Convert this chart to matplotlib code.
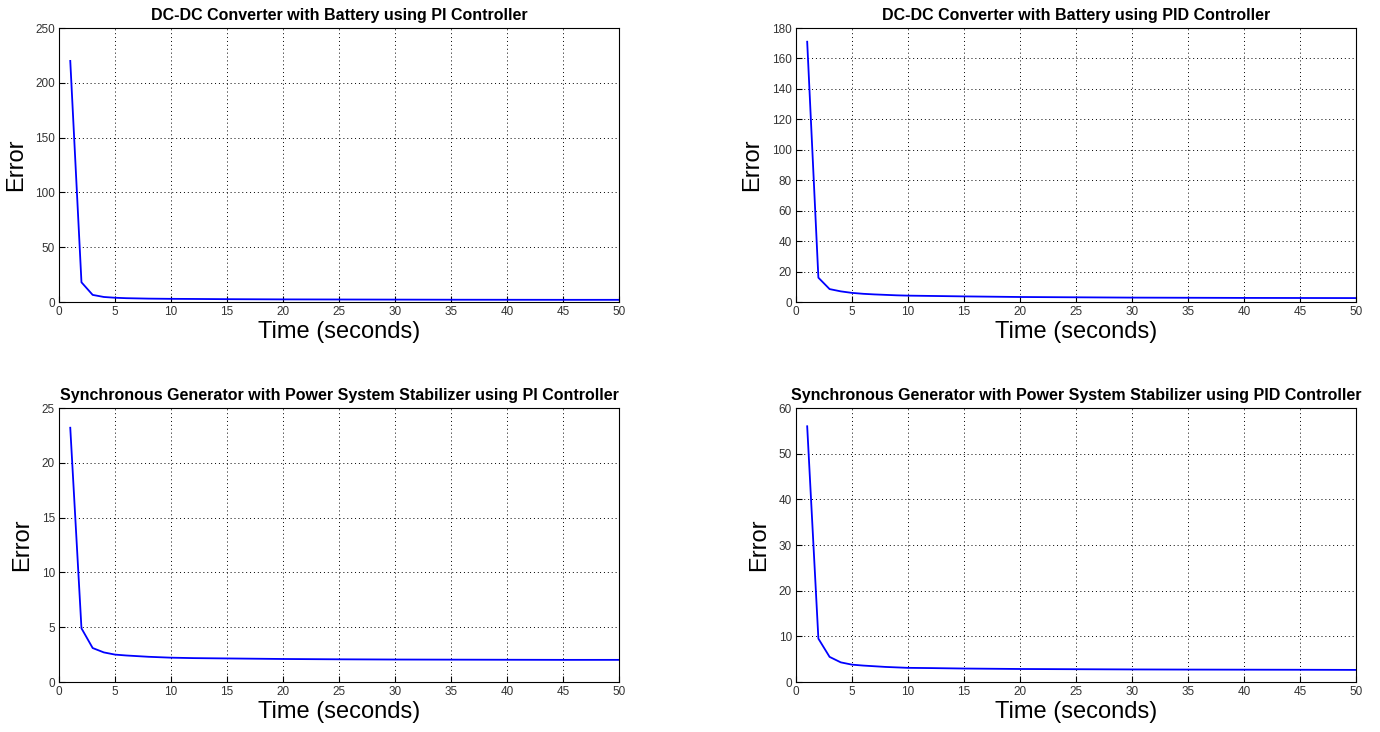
import matplotlib.pyplot as plt

plt.rcParams['font.family'] = ['Liberation Sans', 'DejaVu Sans']

# iteration index (time in seconds) and error at each sample
t = [1, 2, 3, 4, 5, 6, 7, 8, 9, 10, 12, 15, 20, 25, 30, 35, 40, 45, 50]

err_dcdc_pi = [220, 18, 6.5, 4.6, 3.9, 3.5, 3.3, 3.1, 3.0, 2.9, 2.8, 2.6, 2.4, 2.3, 2.2, 2.1, 2.05, 2.0, 2.0]
err_dcdc_pid = [171, 16, 8.5, 7.0, 6.0, 5.4, 5.0, 4.7, 4.4, 4.2, 4.0, 3.7, 3.3, 3.1, 2.9, 2.8, 2.7, 2.65, 2.6]
err_sg_pi = [23.2, 4.9, 3.1, 2.7, 2.5, 2.42, 2.36, 2.3, 2.26, 2.22, 2.18, 2.15, 2.1, 2.07, 2.05, 2.04, 2.03, 2.02, 2.02]
err_sg_pid = [56, 9.5, 5.5, 4.3, 3.8, 3.6, 3.45, 3.3, 3.2, 3.1, 3.05, 2.95, 2.85, 2.8, 2.75, 2.72, 2.7, 2.68, 2.65]

titles = [
    "DC-DC Converter with Battery using PI Controller",
    "DC-DC Converter with Battery using PID Controller",
    "Synchronous Generator with Power System Stabilizer using PI Controller",
    "Synchronous Generator with Power System Stabilizer using PID Controller",
]
series = [err_dcdc_pi, err_dcdc_pid, err_sg_pi, err_sg_pid]
ylims = [250, 180, 25, 60]
ysteps = [50, 20, 5, 10]

# axes rectangles [left, bottom, width, height]
rects = [
    [0.0428, 0.5874, 0.4058, 0.3743],
    [0.5768, 0.5874, 0.4058, 0.3743],
    [0.0428, 0.0683, 0.4058, 0.3743],
    [0.5768, 0.0683, 0.4058, 0.3743],
]

fig = plt.figure(figsize=(13.8, 7.32), dpi=100)

for rect, y, title, ymax, ystep in zip(rects, series, titles, ylims, ysteps):
    ax = fig.add_axes(rect)
    ax.plot(t, y, color='#0000ff', linewidth=1.3)
    ax.set_xlim(0, 50)
    ax.set_ylim(0, ymax)
    ax.set_xticks(range(0, 51, 5))
    ax.set_yticks(range(0, ymax + 1, ystep))
    ax.grid(True, color='black', linestyle=(0, (1, 3)), linewidth=0.7)
    ax.tick_params(direction='in', length=4, labelsize=8.5, labelcolor='#333333', pad=3)
    for s in ax.spines.values():
        s.set_linewidth(0.8)
    ax.set_title(title, fontsize=11.5, fontweight='bold', pad=6)
    ax.set_xlabel("Time (seconds)", fontsize=17, labelpad=2)
    ax.set_ylabel("Error", fontsize=17, labelpad=6)

plt.savefig("out.png", dpi=100)
